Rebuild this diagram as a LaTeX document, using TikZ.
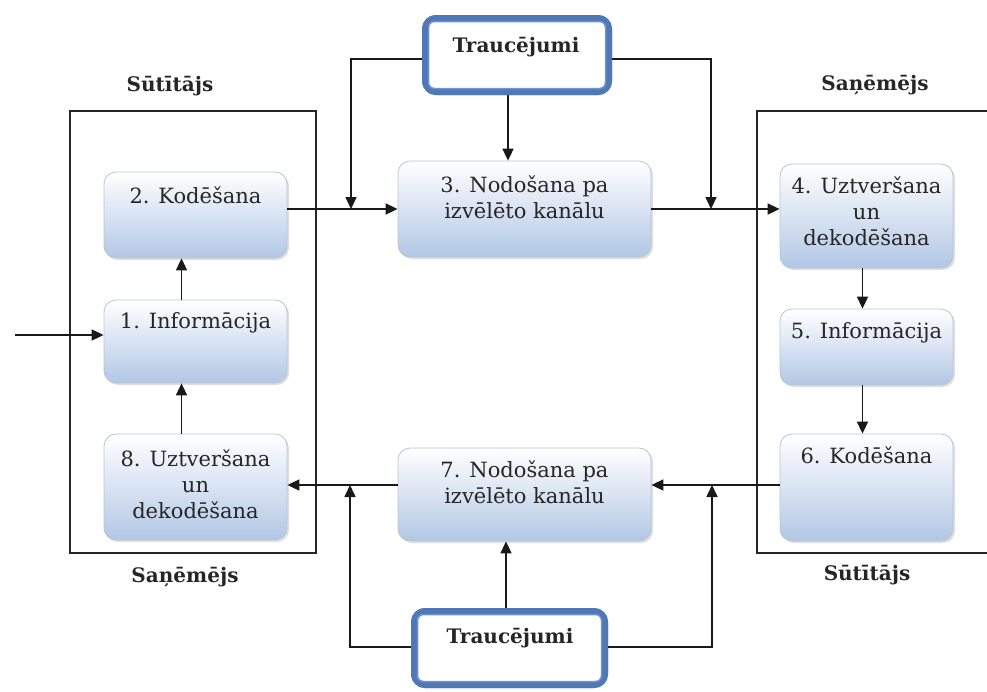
\documentclass[tikz,border=0pt]{standalone}
\usepackage{fontspec}
\setmainfont{DejaVu Serif}
\usetikzlibrary{arrows.meta,shadows}
\definecolor{boxblue}{RGB}{178,199,229}
\definecolor{boxedge}{RGB}{186,197,214}
\definecolor{tblue}{RGB}{80,120,182}
\definecolor{tinner}{RGB}{112,148,202}
\begin{document}
\begin{tikzpicture}[x=1pt,y=-1pt,
  stagebox/.style={rounded corners=12pt, draw=boxedge, line width=0.8pt,
    top color=white, bottom color=boxblue, inner sep=0pt,
    drop shadow={opacity=0.25,shadow xshift=2pt,shadow yshift=-2pt}},
  stagetext/.style={font=\fontsize{21}{26}\selectfont, text=black!85, align=center, anchor=north, inner sep=0pt},
  labeltext/.style={font=\bfseries\fontsize{20}{24}\selectfont, text=black!85, inner sep=0pt},
  tbox/.style={rounded corners=11pt, draw=tblue, line width=6pt, fill=white, inner sep=0pt},
  frame/.style={draw=black!85, line width=1.8pt},
  arr/.style={draw=black!90, line width=1.7pt, -{Triangle[length=12pt,width=11pt]}},
  ln/.style={draw=black!90, line width=1.7pt}
]
\useasboundingbox (0,0) rectangle (987,691);

% frames
\node[frame, minimum width=246pt, minimum height=442pt, inner sep=0pt] (sender) at (193,332) {};
\draw[frame] (987,111) -- (757,111) -- (757,553) -- (987,553);

% group labels
\node[labeltext] (l1) at (170,86) {Sūtītājs};
\node[labeltext] (l2) at (185,577) {Saņēmējs};
\node[labeltext] (l3) at (875,85) {Saņēmējs};
\node[labeltext] (l4) at (867,575) {Sūtītājs};

% stage boxes
\node[stagebox, minimum width=183pt, minimum height=86pt] (b2) at (195.5,215) {};
\node[stagebox, minimum width=183pt, minimum height=83pt] (b1) at (195.5,341.5) {};
\node[stagebox, minimum width=183pt, minimum height=106pt] (b8) at (195.5,487) {};
\node[stagebox, minimum width=253pt, minimum height=96pt] (b3) at (524.5,209) {};
\node[stagebox, minimum width=253pt, minimum height=93pt] (b7) at (524.5,494.5) {};
\node[stagebox, minimum width=173pt, minimum height=104pt] (b4) at (866.5,216) {};
\node[stagebox, minimum width=173pt, minimum height=76pt] (b5) at (866.5,347) {};
\node[stagebox, minimum width=173pt, minimum height=107pt] (b6) at (866.5,487.5) {};

\node[stagetext] (t2) at ([yshift=-15pt]b2.north) {2. Kodēšana};
\node[stagetext] (t1) at ([yshift=-13pt]b1.north) {1. Informācija};
\node[stagetext] (t8) at ([yshift=-16pt]b8.north) {8. Uztveršana\\un\\dekodēšana};
\node[stagetext] (t3) at ([yshift=-15pt]b3.north) {3. Nodošana pa\\izvēlēto kanālu};
\node[stagetext] (t7) at ([yshift=-13pt]b7.north) {7. Nodošana pa\\izvēlēto kanālu};
\node[stagetext] (t4) at ([yshift=-13pt]b4.north) {4. Uztveršana\\un\\dekodēšana};
\node[stagetext] (t5) at ([yshift=-14pt]b5.north) {5. Informācija};
\node[stagetext] (t6) at ([yshift=-13pt]b6.north) {6. Kodēšana};

% interference boxes (placed for anchors)
\node[tbox, minimum width=184pt, minimum height=74pt] (T1) at (517,55) {};
\node[tbox, minimum width=191pt, minimum height=74pt] (T2) at (509.5,648) {};

% helper coordinates
\coordinate (rowA) at (0,209);
\coordinate (rowB) at (0,485);
\coordinate (rowT1) at (0,59);
\coordinate (rowT2) at (0,647);
\coordinate (jTL) at (351,209);
\coordinate (jTR) at (711,209);
\coordinate (jBL) at (350,485);
\coordinate (jBR) at (712,485);
\coordinate (cT1) at (508,0);
\coordinate (cT2) at (506,0);
\coordinate (inp) at (15,335);

% connectors
\draw[arr] (inp) -- (inp -| b1.west);
\draw[arr] ([xshift=-14pt]b1.north) -- ([xshift=-14pt]b2.south);
\draw[arr] ([xshift=-14pt]b8.north) -- ([xshift=-14pt]b1.south);
\draw[arr] (b2.east |- rowA) -- (b3.west |- rowA);
\draw[arr] (T1.west |- rowT1) -| (jTL);
\draw[arr] (T1.south -| cT1) -- (b3.north -| cT1);
\draw[arr] (T1.east |- rowT1) -| (jTR);
\draw[arr] (b3.east |- rowA) -- (b4.west |- rowA);
\draw[arr] ([xshift=-4pt]b4.south) -- ([xshift=-4pt]b5.north);
\draw[arr] ([xshift=-4pt]b5.south) -- ([xshift=-4pt]b6.north);
\draw[arr] (b6.west |- rowB) -- (b7.east |- rowB);
\draw[arr] (b7.west |- rowB) -- (b8.east |- rowB);
\draw[arr] (T2.west |- rowT2) -| (jBL);
\draw[arr] (T2.north -| cT2) -- (b7.south -| cT2);
\draw[arr] (T2.east |- rowT2) -| (jBR);

% redraw interference boxes on top
\node[tbox, minimum width=184pt, minimum height=74pt] (T1b) at (517,55) {};
\draw[tinner, line width=1.5pt, rounded corners=6pt] ([shift={(6.5pt,-6.5pt)}]T1b.north west) rectangle ([shift={(-6.5pt,6.5pt)}]T1b.south east);
\node[labeltext] (tt1) at (516,47) {Traucējumi};
\node[tbox, minimum width=191pt, minimum height=74pt] (T2b) at (509.5,648) {};
\draw[tinner, line width=1.5pt, rounded corners=6pt] ([shift={(6.5pt,-6.5pt)}]T2b.north west) rectangle ([shift={(-6.5pt,6.5pt)}]T2b.south east);
\node[labeltext] (tt2) at (510,638) {Traucējumi};
\end{tikzpicture}
\end{document}
